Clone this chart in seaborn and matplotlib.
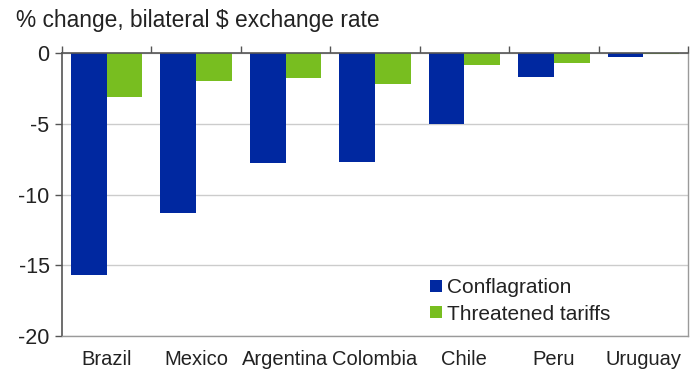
import numpy as np
import pandas as pd
import matplotlib
matplotlib.use("Agg")
import matplotlib.pyplot as plt
import seaborn as sns

countries = ["Brazil", "Mexico", "Argentina", "Colombia", "Chile", "Peru", "Uruguay"]
conflagration = [-15.7, -11.3, -7.8, -7.7, -5.0, -1.7, -0.28]
threatened = [-3.1, -2.0, -1.8, -2.2, -0.85, -0.7, -0.08]
series_names = ["Conflagration", "Threatened tariffs"]
yticks = [0, -5, -10, -15, -20]

df = pd.DataFrame({
    "country": countries * 2,
    "value": conflagration + threatened,
    "series": [series_names[0]] * len(countries) + [series_names[1]] * len(countries),
})

sns.set_theme(style="white")
plt.rcParams["font.family"] = ["Liberation Sans", "DejaVu Sans"]

fig = plt.figure(figsize=(6.96, 3.73), dpi=100)
ax = fig.add_axes([62 / 696, 1 - 336 / 373, 626 / 696, 283 / 373])

palette = {series_names[0]: "#0028A0", series_names[1]: "#78BE20"}
sns.barplot(data=df, x="country", y="value", hue="series", palette=palette,
            width=0.8, gap=0, saturation=1, ax=ax, legend=True, linewidth=0)

ax.set_ylim(-20, 0)
ax.set_xlim(-0.5, len(countries) - 0.5)
ax.set_yticks(yticks)
ax.set_yticklabels([str(t) for t in yticks], fontsize=15.5, color="#222222")
ax.yaxis.grid(True, color="#cccccc", linewidth=1)
ax.set_axisbelow(True)
ax.set_xlabel("")
ax.set_ylabel("")

ax.set_xticks(range(len(countries)))
ax.set_xticklabels(countries, fontsize=14.5, color="#222222")
ax.tick_params(axis="x", which="major", length=0, pad=10)
ax.set_xticks(np.arange(-0.5, len(countries), 1), minor=True)
ax.tick_params(axis="x", which="minor", top=True, bottom=False, direction="out",
               length=5, color="#555555", width=1)
ax.tick_params(axis="y", which="major", left=True, direction="out", length=5,
               color="#555555", width=1, pad=4)

for s in ["left", "top"]:
    ax.spines[s].set_color("#555555")
    ax.spines[s].set_linewidth(1.2)
for s in ["right", "bottom"]:
    ax.spines[s].set_color("#9a9a9a")
    ax.spines[s].set_linewidth(1)
    ax.spines[s].set_visible(True)

leg = ax.legend(loc="lower right", bbox_to_anchor=(0.896, 0.0), frameon=False,
                fontsize=15, handlelength=0.55, handleheight=0.55, handletextpad=0.25,
                labelspacing=0.35, borderaxespad=0.2)
for t in leg.get_texts():
    t.set_color("#222222")

fig.text(16 / 696, 1 - 20 / 373, "% change, bilateral $ exchange rate", fontsize=16.4,
         color="#222222", va="center", ha="left")

fig.savefig("out.png", dpi=100)
